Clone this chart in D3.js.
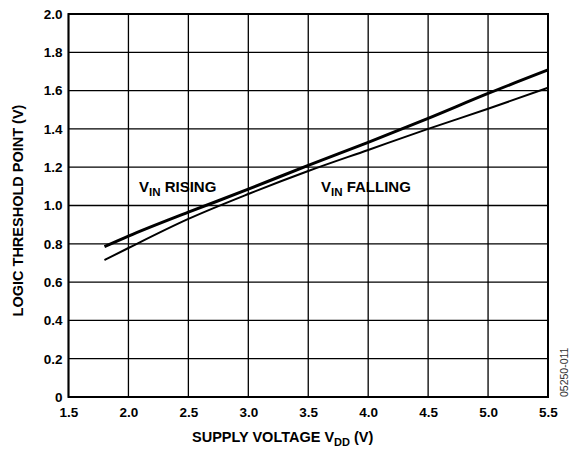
<!DOCTYPE html>
<html>
<head>
<meta charset="utf-8">
<script src="https://cdn.jsdelivr.net/npm/d3@7"></script>
<style>
  body { margin: 0; background: #fff; }
  text { font-family: "Liberation Sans", Arial, sans-serif; }
</style>
</head>
<body>
<svg id="chart" width="569" height="450"></svg>
<script>
const vdd = [1.8, 2.0, 2.5, 3.0, 3.5, 4.0, 4.5, 5.0, 5.5];
const vinRising = [0.785, 0.84, 0.965, 1.085, 1.21, 1.33, 1.455, 1.585, 1.708];
const vinFalling = [0.715, 0.778, 0.93, 1.06, 1.18, 1.29, 1.40, 1.505, 1.615];
const xTicks = [1.5, 2.0, 2.5, 3.0, 3.5, 4.0, 4.5, 5.0, 5.5];
const yTicks = [0, 0.2, 0.4, 0.6, 0.8, 1.0, 1.2, 1.4, 1.6, 1.8, 2.0];

const svg = d3.select("#chart");
const L = 68.5, R = 548, T = 14, B = 397;
const x = d3.scaleLinear().domain([1.5, 5.5]).range([L, R]);
const y = d3.scaleLinear().domain([0, 2.0]).range([B, T]);

// grid
const g = svg.append("g");
g.selectAll("line.v").data(xTicks).join("line")
  .attr("x1", d => x(d)).attr("x2", d => x(d)).attr("y1", T).attr("y2", B)
  .attr("stroke", "#000").attr("stroke-width", 1.3);
g.selectAll("line.h").data(yTicks).join("line")
  .attr("y1", d => y(d)).attr("y2", d => y(d)).attr("x1", L).attr("x2", R)
  .attr("stroke", "#000").attr("stroke-width", 1.3);
svg.append("rect").attr("x", L).attr("y", T).attr("width", R - L).attr("height", B - T)
  .attr("fill", "none").attr("stroke", "#000").attr("stroke-width", 2);

// axes labels via d3 axes
const xAxis = d3.axisBottom(x).tickValues(xTicks).tickFormat(d3.format(".1f")).tickSize(0).tickPadding(10);
const xa = svg.append("g").attr("transform", `translate(0,${B})`).call(xAxis);
xa.select(".domain").remove();
xa.selectAll("text").attr("font-size", 13.5).attr("font-weight", "bold").attr("fill", "#000")
  .attr("font-family", "Liberation Sans, Arial, sans-serif");

const yAxis = d3.axisLeft(y).tickValues(yTicks).tickFormat(d => d === 0 ? "0" : d3.format(".1f")(d)).tickSize(0).tickPadding(6);
const ya = svg.append("g").attr("transform", `translate(${L},0)`).call(yAxis);
ya.select(".domain").remove();
ya.selectAll("text").attr("font-size", 13.5).attr("font-weight", "bold").attr("fill", "#000")
  .attr("font-family", "Liberation Sans, Arial, sans-serif");

// lines
const line = d3.line().x((d, i) => x(vdd[i])).y(d => y(d)).curve(d3.curveMonotoneX);
svg.append("path").datum(vinFalling).attr("d", line).attr("fill", "none")
  .attr("stroke", "#000").attr("stroke-width", 2);
svg.append("path").datum(vinRising).attr("d", line).attr("fill", "none")
  .attr("stroke", "#000").attr("stroke-width", 3);

// annotations
function vinLabel(px, py, rest) {
  const t = svg.append("text").attr("x", px).attr("y", py)
    .attr("font-size", 15).attr("font-weight", "bold").attr("fill", "#000");
  t.append("tspan").text("V");
  t.append("tspan").attr("font-size", 11.5).attr("dy", 4).text("IN");
  t.append("tspan").attr("dy", -4).text(" " + rest);
}
vinLabel(139, 192, "RISING");
vinLabel(321, 192, "FALLING");

// axis titles
const xt = svg.append("text").attr("x", (L + R) / 2 - 24).attr("y", 442).attr("text-anchor", "start")
  .attr("font-size", 14.5).attr("font-weight", "bold").attr("fill", "#000");
xt.attr("x", 192);
xt.append("tspan").text("SUPPLY VOLTAGE V");
xt.append("tspan").attr("font-size", 11).attr("dy", 3.5).text("DD");
xt.append("tspan").attr("dy", -3.5).text(" (V)");

svg.append("text").attr("transform", `translate(23,${(T + B) / 2 + 5}) rotate(-90)`)
  .attr("text-anchor", "middle").attr("font-size", 14.5).attr("font-weight", "bold").attr("fill", "#000")
  .text("LOGIC THRESHOLD POINT (V)");

svg.append("text").attr("transform", `translate(568,${B}) rotate(-90)`)
  .attr("text-anchor", "start").attr("font-size", 10.5).attr("fill", "#333")
  .text("05250-011");
</script>
</body>
</html>
